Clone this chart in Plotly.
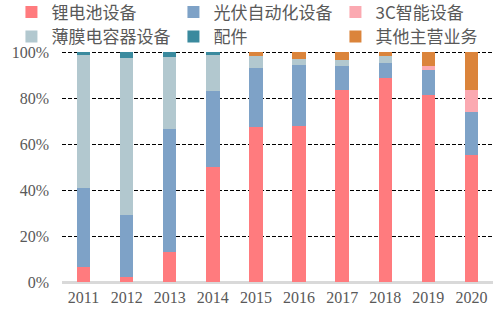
import plotly.graph_objects as go

years = ["2011", "2012", "2013", "2014", "2015", "2016", "2017", "2018", "2019", "2020"]

lithium = [0.064, 0.020, 0.132, 0.499, 0.673, 0.678, 0.838, 0.888, 0.813, 0.551]
pv_auto = [0.346, 0.273, 0.534, 0.331, 0.259, 0.268, 0.104, 0.066, 0.109, 0.188]
smart_3c = [0.0, 0.0, 0.0, 0.0, 0.0, 0.0, 0.0, 0.0, 0.020, 0.099]
film_cap = [0.580, 0.682, 0.314, 0.157, 0.051, 0.025, 0.023, 0.029, 0.0, 0.0]
parts = [0.010, 0.025, 0.020, 0.013, 0.0, 0.0, 0.0, 0.0, 0.0, 0.0]
other = [0.0, 0.0, 0.0, 0.0, 0.017, 0.029, 0.035, 0.017, 0.058, 0.162]

series = [
    ("锂电池设备", lithium, "#FF7B7E", "legend"),
    ("光伏自动化设备", pv_auto, "#7EA2C7", "legend"),
    ("3C智能设备", smart_3c, "#FBA9B1", "legend"),
    ("薄膜电容器设备", film_cap, "#B2C8CF", "legend2"),
    ("配件", parts, "#3A8A9E", "legend2"),
    ("其他主营业务", other, "#DB843B", "legend2"),
]

fig = go.Figure()
for name, vals, color, lg in series:
    fig.add_trace(go.Bar(
        x=years, y=vals, name=name, legend=lg,
        marker=dict(color=color, line=dict(width=0)),
    ))

font_main = "Liberation Serif, 'Noto Sans CJK SC', serif"
legend_font = dict(family="'Noto Sans CJK SC', sans-serif", size=17, color="#595959")

common_legend = dict(
    orientation="h",
    x=-0.1173, xanchor="left",
    yanchor="middle",
    entrywidth=117,
    font=legend_font,
    bgcolor="rgba(0,0,0,0)",
    traceorder="normal",
)

fig.update_layout(
    barmode="stack",
    bargap=0.69,
    width=500, height=322,
    margin=dict(l=62, r=6.5, t=50, b=40, autoexpand=False),
    paper_bgcolor="white",
    plot_bgcolor="white",
    font=dict(family=font_main, size=16, color="#595959"),
    legend=dict(common_legend, y=1.1616),
    legend2=dict(common_legend, y=1.056),
    showlegend=True,
)

fig.update_xaxes(
    showline=True, linecolor="#D9D9D9", linewidth=2,
    showgrid=False, ticks="",
    tickfont=dict(family=font_main, size=16, color="#595959"),
)
fig.update_yaxes(
    range=[0, 1.01],
    tickvals=[0, 0.2, 0.4, 0.6, 0.8, 1.0],
    tickformat=".0%",
    showgrid=True, gridcolor="black", gridwidth=1.3, griddash="4px,2px",
    zeroline=True, zerolinecolor="#D9D9D9", zerolinewidth=2,
    showline=False, ticks="",
    ticklabelstandoff=12,
    tickfont=dict(family=font_main, size=16, color="#595959"),
)

fig.write_html("out.html")
